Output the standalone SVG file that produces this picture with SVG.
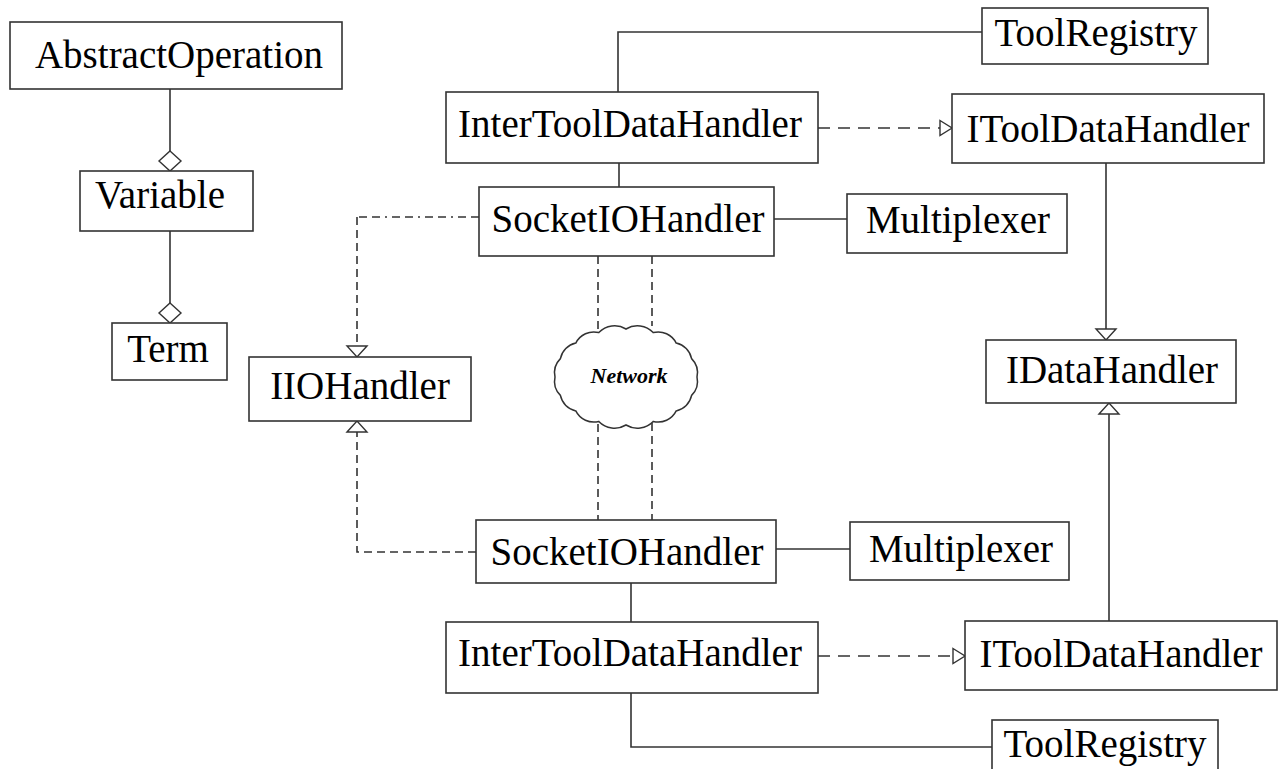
<svg xmlns="http://www.w3.org/2000/svg" width="1278" height="769" viewBox="0 0 1278 769">
  <style>
    .box { fill: #ffffff; stroke: #333333; stroke-width: 1.6; }
    .lbl { font-size: 39px; fill: #000000; text-anchor: middle; }
    .cloud-lbl { font-size: 22px; font-weight: bold; font-style: italic; fill: #000000; text-anchor: middle; }
    .ln { fill: none; stroke: #333333; stroke-width: 1.6; }
    .dash { stroke-dasharray: 8 5; }
    .dash-wide { stroke-dasharray: 12 8; }
    .dash-dot { stroke-dasharray: 8 5 8 5 2 5; }
    .cloud { fill: #ffffff; stroke: #333333; stroke-width: 1.5; }
  </style>
  <defs>
    <!-- aggregation diamond -->
    <marker id="diamond" markerUnits="userSpaceOnUse" markerWidth="22" markerHeight="24" viewBox="0 -12 22 24" refX="20" refY="0" orient="auto" overflow="visible">
      <path d="M0,0 L10,-11 L20,0 L10,11 Z" fill="#ffffff" stroke="#333333" stroke-width="1.4" stroke-dasharray="none"/>
    </marker>
    <!-- hollow triangle, vertical connectors -->
    <marker id="tri-v" markerUnits="userSpaceOnUse" markerWidth="12" markerHeight="22" viewBox="0 -11 12 22" refX="11" refY="0" orient="auto" overflow="visible">
      <path d="M0,-10 L11,0 L0,10 Z" fill="#ffffff" stroke="#333333" stroke-width="1.4" stroke-dasharray="none"/>
    </marker>
    <!-- hollow triangle, horizontal connectors -->
    <marker id="tri-h" markerUnits="userSpaceOnUse" markerWidth="13" markerHeight="17" viewBox="0 -8.5 13 17" refX="12" refY="0" orient="auto" overflow="visible">
      <path d="M0,-7.5 L12,0 L0,7.5 Z" fill="#ffffff" stroke="#333333" stroke-width="1.4" stroke-dasharray="none"/>
    </marker>
  </defs>

  <rect width="1278" height="769" fill="#ffffff"/>

  <g id="connectors">
    <path class="ln" d="M170,89 V171" marker-end="url(#diamond)"/>
    <path class="ln" d="M170,231 V323" marker-end="url(#diamond)"/>
    <path class="ln" d="M618,92 V32 H982"/>
    <path class="ln dash-wide" d="M818,128 H952" marker-end="url(#tri-h)"/>
    <path class="ln" d="M619,163 V187"/>
    <path class="ln" d="M774,219 H847"/>
    <g id="socket-top-to-iio">
      <path class="ln dash-dot" d="M479,217 H357"/>
      <path class="ln dash" d="M357,217 V357" marker-end="url(#tri-v)"/>
    </g>
    <path class="ln" d="M1106,163 V340" marker-end="url(#tri-v)"/>
    <path class="ln dash" d="M598,256 V330"/>
    <path class="ln dash" d="M652,256 V326"/>
    <path class="ln dash" d="M598,424 V520"/>
    <path class="ln dash" d="M652,423 V520"/>
    <path class="ln dash" d="M476,552 H357 V421" marker-end="url(#tri-v)"/>
    <path class="ln" d="M776,549 H850"/>
    <path class="ln" d="M631,583 V622"/>
    <path class="ln dash-wide" d="M818,656 H965" marker-end="url(#tri-h)"/>
    <path class="ln" d="M1109,621 V403" marker-end="url(#tri-v)"/>
    <path class="ln" d="M631,693 V747 H992"/>
  </g>

  <g font-family="'Liberation Serif', Tinos, 'Times New Roman', 'DejaVu Serif', serif">
  <g id="abstract-operation">
    <rect class="box" x="10" y="22" width="332" height="67"/>
    <text class="lbl" x="179" y="68">AbstractOperation</text>
  </g>
  <g id="variable">
    <rect class="box" x="80" y="171" width="173" height="60"/>
    <text class="lbl" x="160" y="208">Variable</text>
  </g>
  <g id="term">
    <rect class="box" x="112" y="323" width="115" height="57"/>
    <text class="lbl" x="168" y="362">Term</text>
  </g>
  <g id="tool-registry-top">
    <rect class="box" x="982" y="8" width="226" height="56"/>
    <text class="lbl" x="1096" y="46">ToolRegistry</text>
  </g>
  <g id="inter-tool-data-handler-top">
    <rect class="box" x="446" y="92" width="372" height="71"/>
    <text class="lbl" x="630" y="137">InterToolDataHandler</text>
  </g>
  <g id="itool-data-handler-top">
    <rect class="box" x="952" y="94" width="312" height="69"/>
    <text class="lbl" x="1108" y="142">IToolDataHandler</text>
  </g>
  <g id="socket-io-handler-top">
    <rect class="box" x="479" y="187" width="295" height="69"/>
    <text class="lbl" x="628" y="232">SocketIOHandler</text>
  </g>
  <g id="multiplexer-top">
    <rect class="box" x="847" y="194" width="220" height="59"/>
    <text class="lbl" x="958" y="233">Multiplexer</text>
  </g>
  <g id="idata-handler">
    <rect class="box" x="986" y="340" width="250" height="63"/>
    <text class="lbl" x="1112" y="383">IDataHandler</text>
  </g>
  <g id="iio-handler">
    <rect class="box" x="249" y="357" width="222" height="64"/>
    <text class="lbl" x="360" y="399">IIOHandler</text>
  </g>
  <g id="network">
    <path class="cloud" d="M697,377
      A20,20 0 0 1 691.6,395.4
      A20,20 0 0 1 676.2,410.9
      A20,20 0 0 1 653.2,421.4
      A22,22 0 0 1 626,425
      A22,22 0 0 1 598.8,421.4
      A20,20 0 0 1 575.8,410.9
      A20,20 0 0 1 560.4,395.4
      A20,20 0 0 1 555,377
      A20,20 0 0 1 560.4,358.6
      A20,20 0 0 1 575.8,343.1
      A20,20 0 0 1 598.8,332.6
      A22,22 0 0 1 626,329
      A22,22 0 0 1 653.2,332.6
      A20,20 0 0 1 676.2,343.1
      A20,20 0 0 1 691.6,358.6
      A20,20 0 0 1 697,377 Z"/>
    <text class="cloud-lbl" x="629" y="383">Network</text>
  </g>
  <g id="socket-io-handler-bottom">
    <rect class="box" x="476" y="520" width="300" height="63"/>
    <text class="lbl" x="627" y="565">SocketIOHandler</text>
  </g>
  <g id="multiplexer-bottom">
    <rect class="box" x="850" y="522" width="219" height="58"/>
    <text class="lbl" x="961" y="562">Multiplexer</text>
  </g>
  <g id="inter-tool-data-handler-bottom">
    <rect class="box" x="446" y="622" width="372" height="71"/>
    <text class="lbl" x="630" y="666">InterToolDataHandler</text>
  </g>
  <g id="itool-data-handler-bottom">
    <rect class="box" x="965" y="621" width="312" height="69"/>
    <text class="lbl" x="1121" y="667">IToolDataHandler</text>
  </g>
  <g id="tool-registry-bottom">
    <rect class="box" x="992" y="720" width="226" height="60"/>
    <text class="lbl" x="1105" y="757">ToolRegistry</text>
  </g>
  </g>
</svg>
